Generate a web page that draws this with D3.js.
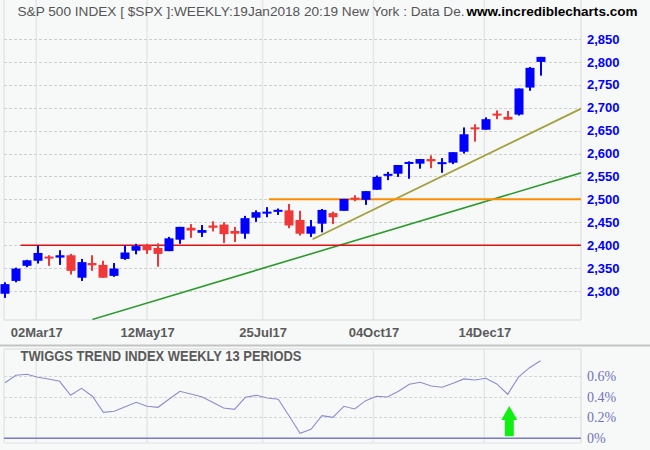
<!DOCTYPE html>
<html><head><meta charset="utf-8">
<script src="https://cdn.jsdelivr.net/npm/d3@7"></script>
<style>body{margin:0;background:#f7f9f9}svg{display:block}</style>
</head><body><svg id="c" width="650" height="450"></svg>
<script>
const weeks=["2017-02-10","2017-02-17","2017-02-24","2017-03-03","2017-03-10","2017-03-17","2017-03-24","2017-03-31","2017-04-07","2017-04-14",
"2017-04-21","2017-04-28","2017-05-05","2017-05-12","2017-05-19","2017-05-26","2017-06-02","2017-06-09","2017-06-16","2017-06-23",
"2017-06-30","2017-07-07","2017-07-14","2017-07-21","2017-07-28","2017-08-04","2017-08-11","2017-08-18","2017-08-25","2017-09-01",
"2017-09-08","2017-09-15","2017-09-22","2017-09-29","2017-10-06","2017-10-13","2017-10-20","2017-10-27","2017-11-03","2017-11-10",
"2017-11-17","2017-11-24","2017-12-01","2017-12-08","2017-12-15","2017-12-22","2017-12-29","2018-01-05","2018-01-12","2018-01-19"];
const open =[2294,2322,2355,2366,2374,2373,2378,2329,2361,2357,2333,2370,2388,2400,2394,2387,2412,2438,2427,2443,2445,2431,2425,2460,2470,2474,2476,2455,2425,2447,2470,2475,2503,2499,2521,2553,2556,2578,2578,2588,2578,2580,2604,2657,2652,2686,2680,2685,2744,2800];
const high =[2319,2351,2368,2399,2378,2389,2381,2370,2378,2366,2361,2399,2403,2403,2404,2418,2440,2446,2444,2452,2450,2440,2464,2476,2483,2480,2490,2475,2455,2479,2473,2501,2509,2518,2552,2560,2575,2583,2588,2596,2590,2603,2657,2664,2679,2694,2693,2742,2789,2811];
const low  =[2285,2319,2352,2360,2355,2357,2336,2322,2344,2329,2331,2368,2380,2381,2353,2387,2403,2416,2418,2430,2405,2407,2414,2451,2461,2466,2437,2421,2418,2428,2446,2475,2496,2488,2521,2542,2549,2545,2567,2568,2558,2577,2600,2626,2652,2675,2674,2683,2737,2770];
const close=[2315,2349,2367,2383,2372,2378,2344,2363,2356,2329,2349,2384,2398,2389,2381,2415,2440,2432,2433,2438,2424,2425,2459,2472,2472,2476,2443,2425,2441,2477,2461,2501,2500,2518,2549,2554,2575,2581,2588,2583,2580,2603,2642,2653,2675,2684,2674,2742,2787,2811];
const twiggs=[0.533,0.604,0.614,0.585,0.568,0.546,0.412,0.479,0.403,0.249,0.259,0.303,0.345,0.307,0.297,0.374,0.451,0.425,0.399,0.345,
0.291,0.278,0.393,0.412,0.386,0.374,0.214,0.048,0.086,0.217,0.201,0.307,0.281,0.361,0.403,0.396,0.451,0.518,0.537,0.501,
0.489,0.527,0.569,0.559,0.575,0.521,0.422,0.588,0.677,0.744];
const priceTicks=[2300,2350,2400,2450,2500,2550,2600,2650,2700,2750,2800,2850];
const dateTicks=["2017-03-02","2017-05-12","2017-07-25","2017-10-04","2017-12-14"];
const twiggsTicks=[0,0.2,0.4,0.6];
const lineRed=[["2017-02-20",2400],["2018-02-14",2400]];
const lineOrange=[["2017-07-29",2500],["2018-02-14",2500]];
const lineGreen=[["2017-04-07",2238],["2018-02-14",2558]];
const lineOlive=[["2017-08-26",2413],["2018-02-14",2698]];
const arrowAt=["2017-12-30",0.02,0.31];

const P=d3.timeParse("%Y-%m-%d");
const svg=d3.select("#c");
const L=4,R=581,T=0,B=320,LT=349,LB=443;
const x=d3.scaleTime().domain([P(weeks[0]),P(weeks[weeks.length-1])]).range([5,540.5]);
const y=d3.scaleLinear().domain([2300,2850]).range([291,39]);
const yl=d3.scaleLinear().domain([0,0.6]).range([438.3,375.7]);

svg.append("rect").attr("width",650).attr("height",450).attr("fill","#f7f9f9");
const defs=svg.append("defs");
defs.append("clipPath").attr("id","cm").append("rect").attr("x",L).attr("y",T).attr("width",R-L).attr("height",B-T);

// vertical grid
dateTicks.forEach(d=>{
  const xx=x(P(d));
  svg.append("line").attr("x1",xx).attr("x2",xx).attr("y1",T).attr("y2",B).attr("stroke","#e6e6e6").attr("stroke-width",1.5);
  svg.append("line").attr("x1",xx).attr("x2",xx).attr("y1",LT).attr("y2",LB).attr("stroke","#e6e6e6").attr("stroke-width",1.5);
});
// horizontal grid main
priceTicks.forEach(v=>{
  svg.append("line").attr("x1",L).attr("x2",R).attr("y1",Math.round(y(v))+0.5).attr("y2",Math.round(y(v))+0.5)
    .attr("stroke","#cfcfcf").attr("stroke-dasharray","3,2");
});
// borders main
svg.append("line").attr("x1",L).attr("x2",L).attr("y1",T).attr("y2",B).attr("stroke","#dcdcdc");
svg.append("line").attr("x1",L).attr("x2",R).attr("y1",B).attr("y2",B).attr("stroke","#d8d8d8");
svg.append("line").attr("x1",R).attr("x2",R).attr("y1",T).attr("y2",B).attr("stroke","#d8d8d8");

// title
svg.append("text").attr("x",17.5).attr("y",16).attr("font-family","Liberation Sans, Arial, sans-serif").attr("font-size",12.5)
  .attr("fill","#555").attr("textLength",447).attr("lengthAdjust","spacingAndGlyphs")
  .text("S&P 500 INDEX [ $SPX ]:WEEKLY:19Jan2018 20:19 New York : Data De.");
svg.append("text").attr("x",466.5).attr("y",16).attr("font-family","Liberation Sans, Arial, sans-serif").attr("font-size",12.5)
  .attr("font-weight","bold").attr("fill","#000").attr("textLength",171).attr("lengthAdjust","spacingAndGlyphs")
  .text("www.incrediblecharts.com");

// trend lines
const gl=svg.append("g").attr("clip-path","url(#cm)");
const ln=d3.line().x(d=>x(P(d[0]))).y(d=>y(d[1]));
[[lineGreen,"#2e9a2e",1.6],[lineOlive,"#a3a03c",1.8],[lineRed,"#dd1111",1.5],[lineOrange,"#ff8c00",2]].forEach(([pts,c,w])=>{
  gl.append("path").attr("d",ln(pts)).attr("fill","none").attr("stroke",c).attr("stroke-width",w);
});

// candles
const cd=weeks.map((w,i)=>({d:P(w),o:open[i],h:high[i],l:low[i],c:close[i]}));
const gc=svg.append("g");
cd.forEach(k=>{
  const col=k.c>=k.o?"#0000ff":"#f03838";
  const cx=Math.round(x(k.d));
  gc.append("rect").attr("x",cx-1).attr("width",2).attr("y",y(k.h)).attr("height",Math.max(1,y(k.l)-y(k.h))).attr("fill",col);
  const top=y(Math.max(k.o,k.c)), bot=y(Math.min(k.o,k.c));
  const h=Math.max(2,bot-top);
  gc.append("rect").attr("x",cx-4.5).attr("width",9).attr("y",(top+bot)/2-h/2).attr("height",h).attr("fill",col);
});

// right axis
const ax=svg.append("g").attr("transform",`translate(${R},0)`)
  .call(d3.axisRight(y).tickValues(priceTicks).tickFormat(d3.format(",")).tickSize(0).tickPadding(6));
ax.select(".domain").remove();
ax.selectAll("text").attr("font-family","Liberation Sans, Arial, sans-serif").attr("font-size",13).attr("font-weight","bold").attr("fill","#0000ff");

// bottom axis labels
const bx=svg.append("g").attr("transform",`translate(0,${B})`)
  .call(d3.axisBottom(x).tickValues(dateTicks.map(P)).tickFormat(d3.timeFormat("%d%b%y")).tickSize(0).tickPadding(8));
bx.select(".domain").remove();
bx.selectAll("text").attr("font-family","Liberation Sans, Arial, sans-serif").attr("font-size",13).attr("font-weight","bold").attr("fill","#5a5a5a");

// separator
svg.append("rect").attr("x",0).attr("y",344.5).attr("width",650).attr("height",2).attr("fill","#c4c4c4");

// lower panel
twiggsTicks.forEach(v=>{
  if(v>0) svg.append("line").attr("x1",L).attr("x2",R).attr("y1",Math.round(yl(v))+0.5).attr("y2",Math.round(yl(v))+0.5)
    .attr("stroke","#d4d4d4").attr("stroke-dasharray","3,2");
});
svg.append("line").attr("x1",L).attr("x2",R).attr("y1",LT).attr("y2",LT).attr("stroke","#d8d8d8");
svg.append("line").attr("x1",L).attr("x2",R).attr("y1",LB).attr("y2",LB).attr("stroke","#e0e0e0");
svg.append("line").attr("x1",L).attr("x2",L).attr("y1",LT).attr("y2",LB).attr("stroke","#dcdcdc");
svg.append("line").attr("x1",R).attr("x2",R).attr("y1",LT).attr("y2",LB).attr("stroke","#d8d8d8");
svg.append("line").attr("x1",L).attr("x2",R).attr("y1",yl(0)).attr("y2",yl(0)).attr("stroke","#7a7acc").attr("stroke-width",1.5);

svg.append("text").attr("x",20.5).attr("y",361).attr("font-family","Liberation Sans, Arial, sans-serif").attr("font-size",14)
  .attr("font-weight","bold").attr("fill","#5a5a5a").attr("textLength",281).attr("lengthAdjust","spacingAndGlyphs")
  .text("TWIGGS TREND INDEX WEEKLY 13 PERIODS");

svg.append("path").datum(twiggs).attr("fill","none").attr("stroke","#8c8cd0").attr("stroke-width",1.1)
  .attr("d",d3.line().x((d,i)=>x(P(weeks[i]))).y(d=>yl(d)));

const la=svg.append("g").attr("transform",`translate(${R},0)`)
  .call(d3.axisRight(yl).tickValues(twiggsTicks).tickFormat(d=>d3.format(".1f")(d).replace(".0","")+"%").tickSize(0).tickPadding(6));
la.select(".domain").remove();
la.selectAll("text").attr("font-family","Liberation Serif, Times New Roman, serif").attr("font-size",14).attr("fill","#7272b8");

// green arrow annotation
const axc=x(P(arrowAt[0])), yb=yl(arrowAt[1]), yt=yl(arrowAt[2]);
const hb=yt+14;
svg.append("path").attr("d",`M${axc},${yt} L${axc+8},${hb} L${axc+4.5},${hb} L${axc+4.5},${yb} L${axc-4.5},${yb} L${axc-4.5},${hb} L${axc-8},${hb} Z`)
  .attr("fill","#11ee11");
</script></body></html>
